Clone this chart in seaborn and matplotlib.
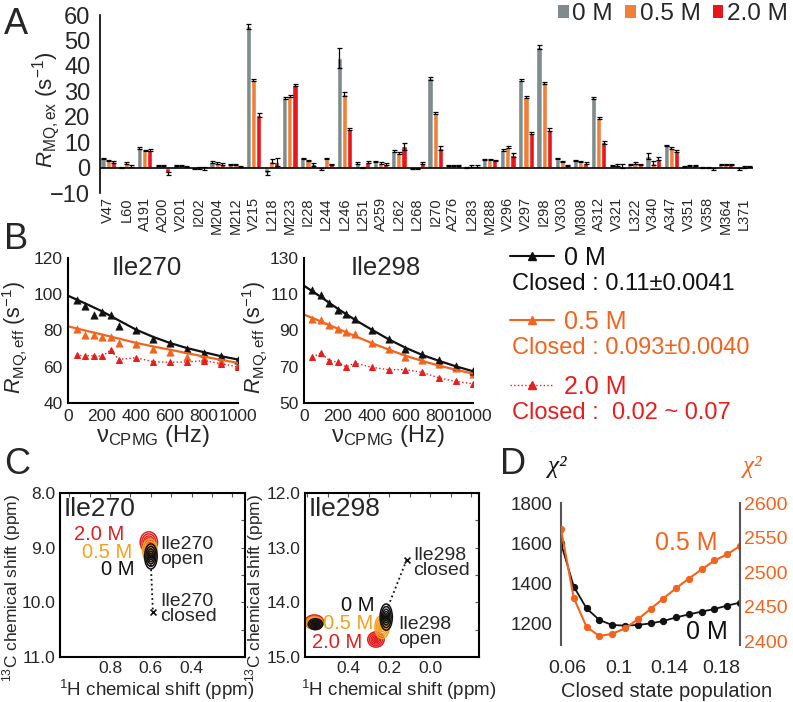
import matplotlib
matplotlib.use('Agg')
import matplotlib.pyplot as plt
from matplotlib.patches import Ellipse, Patch
from matplotlib.lines import Line2D
from matplotlib.ticker import MultipleLocator, FixedLocator
import pandas as pd
import seaborn as sns

W, H = 793, 702

# ---- panel A: R_ex per residue ----
residues = ['V47', 'L60', 'A191', 'A200', 'V201', 'I202', 'M204', 'M212', 'V215', 'L218',
            'M223', 'I228', 'L244', 'L246', 'L251', 'A259', 'L262', 'L268', 'I270', 'A276',
            'L283', 'M288', 'V296', 'V297', 'I298', 'V303', 'M308', 'A312', 'V321', 'L322',
            'V340', 'A347', 'V351', 'V358', 'M364', 'L371']
rex_0M = [3.6, 0.1, 7.7, 0.8, 0.9, -0.4, 2.2, 1.3, 55.5, -2.3, 27.4, 3.6, -0.6, 43.1, 1.7, 2.3,
          6.5, -0.3, 35.2, 0.9, 0.2, 3.2, 6.8, 34.4, 47.5, 3.5, 2.8, 27.3, 0.8, 1.2, 4.5, 8.7,
          0.4, 0.2, 1.3, -0.6]
rex_05M = [2.8, 1.8, 6.7, 0.8, 0.9, -0.1, 1.7, 1.3, 34.5, 2.6, 28.1, 2.8, 3.5, 28.8, 0.1, 1.8,
           5.8, -0.3, 21.6, 0.9, 0.7, 3.1, 8.0, 27.6, 33.2, 2.3, 2.3, 19.5, 1.0, 1.7, 1.7, 7.8,
           0.9, 0.2, 1.3, 0.3]
rex_20M = [2.2, 0.6, 6.8, -2.3, 0.4, -0.4, 1.5, 0.4, 20.6, 2.3, 32.5, 1.3, 1.3, 15.0, 2.1, 1.5,
           8.4, 1.7, 7.8, 0.9, 0.7, 2.8, 5.0, 13.6, 14.9, 0.9, 1.9, 9.9, 0.6, 1.2, 3.5, 6.5,
           0.9, -0.6, 1.3, 0.4]
err_0M = [0.35, 0.2, 0.3, 0.3, 0.3, 0.3, 0.3, 0.3, 0.9, 0.8, 0.4, 0.3, 0.3, 3.8, 0.3, 0.3,
          0.4, 0.3, 0.6, 0.3, 0.2, 0.3, 0.4, 0.4, 0.8, 0.3, 0.3, 0.4, 0.3, 0.3, 1.2, 0.3,
          0.2, 0.2, 0.3, 0.3]
err_05M = [0.3, 0.3, 0.3, 0.3, 0.3, 0.3, 0.3, 0.3, 0.5, 0.7, 0.4, 0.3, 0.3, 0.8, 0.2, 0.3,
           0.4, 0.3, 0.4, 0.3, 0.3, 0.3, 0.4, 0.4, 0.5, 0.3, 0.3, 0.4, 0.3, 0.3, 0.7, 0.3,
           0.3, 0.2, 0.3, 0.3]
err_20M = [0.3, 0.3, 0.4, 0.6, 0.3, 0.5, 0.3, 0.3, 0.8, 1.6, 0.5, 0.5, 0.3, 0.4, 0.3, 0.3,
           1.3, 0.3, 0.7, 0.3, 0.3, 0.3, 0.9, 0.5, 0.5, 0.3, 0.3, 0.6, 0.8, 0.3, 0.6, 0.3,
           0.3, 0.3, 0.3, 0.3]
conc_labels = ['0 M', '0.5 M', '2.0 M']
bar_colors = ['#808b8c', '#f08038', '#e8161b']

# ---- panel B: relaxation dispersion ----
nu = [50, 100, 150, 200, 250, 300, 400, 500, 600, 700, 800, 900, 1000]
i270_0M = [96.7, 93.7, 88.4, 90.0, 88.6, 82.3, 80.1, 75.3, 73.3, 70.0, 67.6, 66.1, 63.6]
i270_05M = [81.0, 77.5, 77.5, 76.3, 76.4, 73.1, 72.6, 69.8, 68.2, 65.2, 64.7, 63.4, 60.8]
i270_20M = [66.3, 66.1, 66.1, 65.8, 69.1, 64.0, 65.0, 62.8, 62.5, 62.6, 63.4, 61.7, 59.9]
i298_0M = [112.5, 109.4, 105.2, 101.5, 99.3, 96.5, 90.5, 85.5, 80.0, 77.1, 73.6, 70.3, 67.7]
i298_05M = [96.4, 95.6, 93.2, 90.8, 89.2, 88.1, 83.1, 80.0, 75.4, 73.9, 71.4, 69.1, 65.8]
i298_20M = [75.2, 77.6, 73.4, 72.6, 69.9, 72.1, 69.7, 68.4, 68.4, 66.9, 63.8, 61.9, 60.6]
nu_fit = [0, 100, 200, 300, 400, 500, 600, 700, 800, 900, 1000]
i270_fit_0M = [99.2, 95.0, 90.6, 85.5, 80.5, 76.5, 73.1, 70.3, 68.0, 65.8, 64.0]
i270_fit_05M = [82.3, 80.0, 77.8, 75.5, 73.2, 71.2, 69.4, 67.5, 65.6, 63.8, 62.1]
i298_fit_0M = [114.7, 108.5, 102.0, 96.0, 90.5, 85.2, 80.5, 76.5, 73.2, 70.2, 67.5]
i298_fit_05M = [98.8, 95.0, 91.0, 87.0, 83.1, 79.5, 76.1, 73.2, 70.6, 68.3, 66.2]
closed_text = ['Closed : 0.11\u00b10.0041', 'Closed : 0.093\u00b10.0040', 'Closed :  0.02 ~ 0.07']

# ---- panel C: peak positions (1H, 13C) for 2.0 M, 0.5 M, 0 M ----
i270_h = [0.61, 0.605, 0.60]
i270_c = [8.90, 9.05, 9.16]
i270_closed = [0.59, 10.17]
i298_h = [0.265, 0.235, 0.215]
i298_c = [14.68, 14.45, 14.27]
nb_h = [0.565, 0.565, 0.56]
nb_c = [14.36, 14.38, 14.40]
i298_closed = [0.115, 13.22]
c270_xticks = [0.8, 0.6, 0.4]
c298_xticks = [0.4, 0.2, 0.0]

# ---- panel D: chi2 vs closed population ----
pop = [0.055, 0.065, 0.075, 0.085, 0.095, 0.105, 0.115, 0.125, 0.135, 0.145, 0.155,
       0.165, 0.175, 0.185, 0.195]
chi2_0M = [1598, 1382, 1273, 1215, 1190, 1187, 1190, 1198, 1210, 1228, 1243, 1257, 1270,
           1287, 1302]
chi2_05M = [2562, 2463, 2421, 2408, 2411, 2419, 2432, 2447, 2462, 2477, 2491, 2504, 2517,
            2526, 2538]

BLACK = '#111111'
ORANGE = '#f2641e'
RED = '#e61e1e'
C_ORANGE = '#f5a01e'
C_RED = '#e02020'

sns.set_style('white')
plt.rcParams['font.family'] = ['Liberation Sans', 'DejaVu Sans']
plt.rcParams['mathtext.fontset'] = 'custom'
plt.rcParams['mathtext.rm'] = 'Liberation Sans'
plt.rcParams['mathtext.it'] = 'Liberation Sans:italic'
plt.rcParams['mathtext.bf'] = 'Liberation Sans:bold'

fig = plt.figure(figsize=(W / 100, H / 100), dpi=100)


def px_axes(l, t, r, b):
    return fig.add_axes([l / W, 1 - b / H, (r - l) / W, (b - t) / H])


def letter(x, y, s):
    fig.text(x / W, 1 - y / H, s, fontsize=26, va='top', ha='left')


# ================= A =================
n = len(residues)
df_a = pd.DataFrame({'residue': residues * 3,
                     'rex': rex_0M + rex_05M + rex_20M,
                     'conc': [c for c in conc_labels for _ in range(n)]})
ax = px_axes(100, 15, 753, 193)
sns.barplot(data=df_a, x='residue', y='rex', hue='conc', palette=bar_colors, width=0.85,
            saturation=1, errorbar=None, legend=False, ax=ax)
for cont, vals, err in zip(ax.containers, [rex_0M, rex_05M, rex_20M], [err_0M, err_05M, err_20M]):
    xs = [p.get_x() + p.get_width() / 2 for p in cont]
    ax.errorbar(xs, vals, yerr=err, fmt='none', ecolor='black', elinewidth=0.9,
                capsize=1.8, capthick=0.9)
ax.set_xlim(-0.45, n - 0.5)
ax.set_ylim(-10, 60)
ax.set_yticks(range(-10, 61, 10))
ax.axhline(0, color='black', lw=1.2)
for s in ['top', 'right', 'bottom']:
    ax.spines[s].set_visible(False)
ax.spines['left'].set_color('black')
ax.spines['left'].set_linewidth(1.2)
ax.tick_params(axis='y', length=0, labelsize=17, pad=7)
ax.tick_params(axis='x', length=0, labelsize=10.5, pad=3, rotation=90)
ax.set_xlabel('')
ax.set_ylabel(r'$R_{\mathrm{MQ,ex}}$ (s$^{-1}$)', fontsize=16)
ax.yaxis.set_label_coords(-0.058, 0.47)
handles = [Patch(facecolor=c, edgecolor='none') for c in bar_colors]
ax.legend(handles, conc_labels, loc='upper right', bbox_to_anchor=(788 / W, 1 - 3 / H),
          bbox_transform=fig.transFigure, ncol=3, frameon=False, fontsize=17.5,
          handlelength=0.45, handleheight=0.45, handletextpad=0.15, columnspacing=0.5,
          borderpad=0, borderaxespad=0)
letter(4, 7, 'A')

# ================= B =================
b_sets = [
    (68, 238, (40, 120), 'Ile270', i270_0M, i270_05M, i270_20M, i270_fit_0M, i270_fit_05M, -0.228, 0.465),
    (304, 473, (50, 130), 'Ile298', i298_0M, i298_05M, i298_20M, i298_fit_0M, i298_fit_05M, -0.21, 0.485),
]
for (l, r, ylim, name, d0, d05, d20, f0, f05, ylx, tx) in b_sets:
    ax = px_axes(l, 258, r, 403)
    sns.lineplot(x=nu, y=d20, color=RED, lw=1.0, linestyle=':', marker='^', markersize=5,
                 markeredgecolor=RED, ax=ax)
    sns.lineplot(x=nu_fit, y=f05, color=ORANGE, lw=1.6, ax=ax)
    sns.scatterplot(x=nu, y=d05, color=ORANGE, marker='^', s=28, edgecolor=ORANGE, ax=ax)
    sns.lineplot(x=nu_fit, y=f0, color=BLACK, lw=1.6, ax=ax)
    sns.scatterplot(x=nu, y=d0, color=BLACK, marker='^', s=28, edgecolor=BLACK, ax=ax)
    ax.set_xlim(0, 1000)
    ax.set_ylim(*ylim)
    ax.set_yticks(range(ylim[0], ylim[1] + 1, 20))
    ax.set_xticks(range(0, 1001, 200))
    sns.despine(ax=ax)
    for s in ['left', 'bottom']:
        ax.spines[s].set_color('black')
        ax.spines[s].set_linewidth(1.5)
    ax.tick_params(length=0, labelsize=12.5, pad=4)
    ax.set_xlabel('\u03bd$_{\\mathrm{CPMG}}$ (Hz)', fontsize=17)
    ax.xaxis.set_label_coords(0.5, -0.135)
    ax.set_ylabel(r'$R_{\mathrm{MQ,eff}}$ (s$^{-1}$)', fontsize=15.5)
    ax.yaxis.set_label_coords(ylx, 0.45)
    ax.text(tx, 0.93, name, transform=ax.transAxes, fontsize=18.5, ha='center', va='center')

leg_handles = [Line2D([], [], color=BLACK, lw=1.5, marker='^', ms=6),
               Line2D([], [], color=ORANGE, lw=1.5, marker='^', ms=6),
               Line2D([], [], color=RED, lw=1.0, ls=':', marker='^', ms=6)]
leg_colors = [BLACK, ORANGE, RED]
for hnd, lab, col, yl, closed in zip(leg_handles, conc_labels, leg_colors, [258, 322, 387],
                                     closed_text):
    fig.legend([hnd], [lab], loc='center left', bbox_to_anchor=(510 / W, 1 - yl / H),
               frameon=False, fontsize=18, numpoints=1, handlelength=1.75, handletextpad=0.4,
               borderpad=0, borderaxespad=0, labelcolor=col)
    fig.text(512 / W, 1 - (yl + 26) / H, closed, fontsize=17, color=col, ha='left', va='center')
letter(4, 222, 'B')

# ================= C =================
levels = [1.0, 0.8, 0.6, 0.42, 0.25, 0.1]
peak_cols = [C_RED, C_ORANGE, BLACK]


def draw_peaks(ax, hs, cs, widths, heights):
    for h, c, w, ht, col in zip(hs, cs, widths, heights, peak_cols):
        for f in levels:
            ax.add_patch(Ellipse((h, c), w * f, ht * f, fill=False, edgecolor=col, lw=1.1))


c_sets = [
    (60, 245, (1.046, 0.138), (11.0, 8.0), 'Ile270', c270_xticks),
    (305, 479, (0.611, -0.2375), (15.0, 12.0), 'Ile298', c298_xticks),
]
c_axes = []
for (l, r, xlim, ylim, name, xt) in c_sets:
    ax = px_axes(l, 493, r, 657)
    ax.set_xlim(*xlim)
    ax.set_ylim(*ylim)
    for s in ax.spines.values():
        s.set_visible(True)
        s.set_color('black')
        s.set_linewidth(1.5)
    ax.xaxis.set_major_locator(FixedLocator(xt))
    ax.xaxis.set_minor_locator(MultipleLocator(0.1))
    ax.yaxis.set_major_locator(MultipleLocator(1.0))
    ax.yaxis.set_minor_locator(MultipleLocator(0.5))
    ax.xaxis.set_major_formatter(matplotlib.ticker.FormatStrFormatter('%.1f'))
    ax.yaxis.set_major_formatter(matplotlib.ticker.FormatStrFormatter('%.1f'))
    ax.tick_params(which='both', direction='in', top=True, right=True, labelsize=12.5,
                   length=3, width=0.8, color='#555555')
    ax.tick_params(axis='y', pad=3)
    ax.tick_params(axis='x', pad=3)
    ax.set_xlabel('$^{1}$H chemical shift (ppm)', fontsize=13.5)
    ax.set_ylabel('$^{13}$C chemical shift (ppm)', fontsize=12.5)
    ax.text(0.02, 0.9, name, transform=ax.transAxes, fontsize=19, ha='left', va='center')
    c_axes.append(ax)

ax = c_axes[0]
draw_peaks(ax, i270_h, i270_c, [0.085, 0.072, 0.062], [0.38, 0.42, 0.46])
ax.plot([i270_h[2], i270_closed[0]], [i270_c[2] + 0.15, i270_closed[1]], ':', color=BLACK, lw=1.3)
sns.scatterplot(x=[i270_closed[0]], y=[i270_closed[1]], marker='x', color=BLACK, s=18,
                linewidth=1.2, ax=ax)
ax.xaxis.set_label_coords(0.52, -0.13)
ax.yaxis.set_label_coords(-0.2, 0.42)
ax.text(0.35, 0.744, '2.0 M', transform=ax.transAxes, color=C_RED, fontsize=14.5, ha='right', va='center')
ax.text(0.39, 0.64, '0.5 M', transform=ax.transAxes, color=C_ORANGE, fontsize=14.5, ha='right', va='center')
ax.text(0.405, 0.535, '0 M', transform=ax.transAxes, color=BLACK, fontsize=14.5, ha='right', va='center')
ax.text(0.54, 0.64, 'Ile270\nopen', transform=ax.transAxes, fontsize=14, ha='left', va='center',
        linespacing=0.85)
ax.text(0.54, 0.29, 'Ile270\nclosed', transform=ax.transAxes, fontsize=14, ha='left', va='center',
        linespacing=0.85)

ax = c_axes[1]
draw_peaks(ax, nb_h, nb_c, [0.09, 0.08, 0.07], [0.26, 0.23, 0.2])
draw_peaks(ax, i298_h, i298_c, [0.08, 0.07, 0.06], [0.28, 0.42, 0.48])
ax.plot([i298_h[2] - 0.01, i298_closed[0]], [i298_c[2] - 0.2, i298_closed[1]], ':', color=BLACK, lw=1.3)
sns.scatterplot(x=[i298_closed[0]], y=[i298_closed[1]], marker='x', color=BLACK, s=18,
                linewidth=1.2, ax=ax)
ax.xaxis.set_label_coords(0.54, -0.13)
ax.yaxis.set_label_coords(-0.225, 0.42)
ax.text(0.40, 0.317, '0 M', transform=ax.transAxes, color=BLACK, fontsize=14.5, ha='right', va='center')
ax.text(0.39, 0.207, '0.5 M', transform=ax.transAxes, color=C_ORANGE, fontsize=14.5, ha='right', va='center')
ax.text(0.328, 0.091, '2.0 M', transform=ax.transAxes, color=C_RED, fontsize=14.5, ha='right', va='center')
ax.text(0.534, 0.15, 'Ile298\nopen', transform=ax.transAxes, fontsize=14, ha='left', va='center',
        linespacing=0.85)
ax.text(0.62, 0.573, 'Ile298\nclosed', transform=ax.transAxes, fontsize=14, ha='left', va='center',
        linespacing=0.85)
letter(4, 447, 'C')

# ================= D =================
ax = px_axes(561, 503, 740, 645)
ax2 = ax.twinx()
sns.lineplot(x=pop, y=chi2_0M, color=BLACK, lw=1.3, marker='o', markersize=4.5,
             markeredgecolor=BLACK, ax=ax)
sns.lineplot(x=pop, y=chi2_05M, color=ORANGE, lw=1.5, marker='o', markersize=4.5,
             markeredgecolor=ORANGE, ax=ax2)
ax.set_xlim(0.055, 0.195)
ax.set_ylim(1090, 1800)
ax2.set_ylim(2395, 2600)
ax.set_xticks([0.06, 0.1, 0.14, 0.18])
ax.set_xticklabels(['0.06', '0.1', '0.14', '0.18'])
ax.set_yticks([1200, 1400, 1600, 1800])
ax2.set_yticks([2400, 2450, 2500, 2550, 2600])
for a in (ax, ax2):
    for s in a.spines.values():
        s.set_visible(False)
ax.spines['left'].set_visible(True)
ax.spines['left'].set_color('#555555')
ax.spines['left'].set_linewidth(1.5)
ax2.spines['right'].set_visible(True)
ax2.spines['right'].set_color('#555555')
ax2.spines['right'].set_linewidth(1.5)
ax.tick_params(axis='y', length=0, labelsize=13.5, pad=6)
ax.tick_params(axis='x', length=0, labelsize=14, pad=11)
ax2.tick_params(axis='y', length=0, labelsize=14, pad=3, labelcolor=ORANGE)
ax.set_xlabel('Closed state population', fontsize=14.5)
ax.xaxis.set_label_coords(0.587, -0.26)
ax.set_ylabel('')
ax2.set_ylabel('')
ax.text(-0.02, 1.25, '\u03c7\u00b2', transform=ax.transAxes, fontsize=18, ha='center',
        va='center', family='Liberation Serif', style='italic', color=BLACK)
ax.text(1.07, 1.25, '\u03c7\u00b2', transform=ax.transAxes, fontsize=18, ha='center',
        va='center', family='Liberation Serif', style='italic', color=ORANGE)
ax.text(0.70, 0.72, '0.5 M', transform=ax.transAxes, fontsize=18, color=ORANGE, ha='center', va='center')
ax.text(0.816, 0.09, '0 M', transform=ax.transAxes, fontsize=18, color=BLACK, ha='center',
        va='center', zorder=5)
letter(500, 447, 'D')

fig.savefig('out.png', dpi=100)
